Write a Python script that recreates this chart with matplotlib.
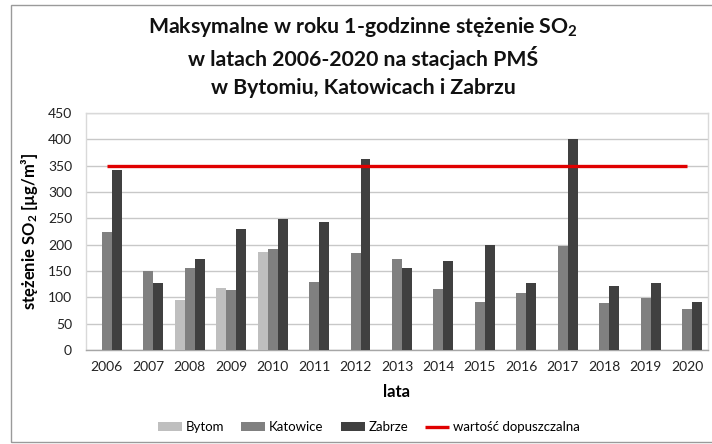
import matplotlib
matplotlib.use("Agg")
import matplotlib.pyplot as plt
import numpy as np
from matplotlib.patches import Rectangle

years = ["2006", "2007", "2008", "2009", "2010", "2011", "2012", "2013",
         "2014", "2015", "2016", "2017", "2018", "2019", "2020"]
bytom = [np.nan, np.nan, 94, 118, 186, np.nan, np.nan, np.nan,
         np.nan, np.nan, np.nan, np.nan, np.nan, np.nan, np.nan]
katowice = [224, 150, 155, 113, 191, 129, 184, 172, 115, 91, 108, 198, 90, 98, 77]
zabrze = [341, 127, 172, 229, 249, 243, 362, 155, 169, 200, 128, 400, 121, 128, 91]
limit_value = 350
yticks = [0, 50, 100, 150, 200, 250, 300, 350, 400, 450]

plt.rcParams['font.family'] = ['Lato', 'DejaVu Sans']
plt.rcParams['mathtext.fontset'] = 'custom'
plt.rcParams['mathtext.rm'] = 'Lato'
plt.rcParams['mathtext.it'] = 'Lato:italic'
plt.rcParams['mathtext.bf'] = 'Lato:bold'
plt.rcParams['mathtext.default'] = 'rm'

W, H = 712, 444
fig = plt.figure(figsize=(W / 100, H / 100), dpi=100)
fig.patch.set_facecolor('white')

# outer chart border
fig.add_artist(Rectangle((11 / W, 1 - 442 / H), (W + 5 - 11) / W, (442 - 5) / H,
                         transform=fig.transFigure, fill=False,
                         edgecolor='#9a9a9a', linewidth=1.0))

ax = fig.add_axes([86 / W, 1 - 350 / H, (708 - 86) / W, (350 - 113) / H])

x = np.arange(len(years))
w = 0.24
ax.bar(x - w, bytom, width=w, color='#BFBFBF', label='Bytom', zorder=3)
ax.bar(x, katowice, width=w, color='#808080', label='Katowice', zorder=3)
ax.bar(x + w, zabrze, width=w, color='#404040', label='Zabrze', zorder=3)
ax.plot([x[0], x[-1]], [limit_value, limit_value], color='#E00000', linewidth=2.4,
        label='wartość dopuszczalna', zorder=4, solid_capstyle='butt')

ax.set_xlim(-0.5, len(years) - 0.5)
ax.set_ylim(0, 450)
ax.set_yticks(yticks)
ax.set_yticklabels([str(v) for v in yticks])
ax.set_xticks(x)
ax.set_xticklabels(years)
ax.tick_params(axis='both', length=0, labelsize=10, colors='#222222')
ax.tick_params(axis='x', pad=8)
ax.tick_params(axis='y', pad=10)
ax.grid(axis='y', color='#C8C8C8', linewidth=1.0, zorder=0)
for side in ['left', 'top', 'right']:
    ax.spines[side].set_color('#D9D9D9')
    ax.spines[side].set_linewidth(1.0)
ax.spines['bottom'].set_color('#A6A6A6')
ax.spines['bottom'].set_linewidth(1.0)

ax.set_ylabel(r'stężenie SO$_\mathbf{2}$ [µg/m³]', fontsize=12, fontweight='bold', labelpad=6)
ax.set_xlabel('lata', fontsize=12, fontweight='bold', labelpad=8)

title_lines = [r'Maksymalne w roku 1-godzinne stężenie SO$_\mathbf{2}$',
               'w latach 2006-2020 na stacjach PMŚ',
               'w Bytomiu, Katowicach i Zabrzu']
title_y = [27, 58, 88]
for t, yy in zip(title_lines, title_y):
    fig.text(363 / W, 1 - yy / H, t, ha='center', va='center',
             fontsize=15.3, fontweight='bold', color='#111111')

handles, labels = ax.get_legend_handles_labels()
order = [1, 2, 3, 0]
leg = ax.legend([handles[i] for i in order], [labels[i] for i in order],
                loc='center', bbox_to_anchor=(369 / W, 1 - 427 / H), bbox_transform=fig.transFigure,
                ncol=4, frameon=False, fontsize=9.5, handlelength=1.8, handletextpad=0.3,
                columnspacing=1.3, handleheight=0.6)

fig.savefig('out.png', dpi=100)
